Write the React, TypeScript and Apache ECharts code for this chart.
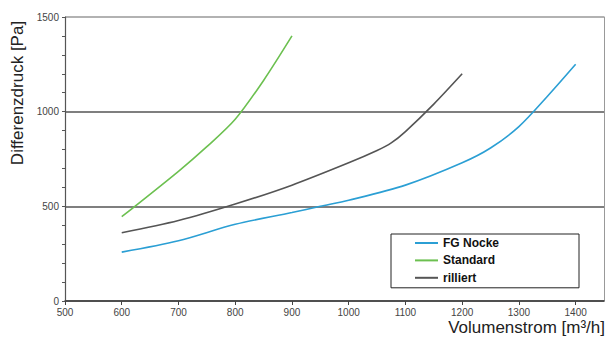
import React, { useEffect, useRef } from "react";
import * as echarts from "echarts";

const FONT = "'Liberation Sans', Arial, sans-serif";

const seriesNames = ["FG Nocke", "Standard", "rilliert"];
const seriesColors = ["#2b9fd4", "#6cc050", "#555555"];

const fgNockeX = [600, 700, 800, 900, 950, 1000, 1100, 1200, 1250, 1300, 1350, 1400];
const fgNockeY = [258, 318, 405, 467, 500, 532, 612, 730, 808, 921, 1080, 1250];

const standardX = [600, 700, 750, 800, 850, 900];
const standardY = [445, 685, 815, 960, 1165, 1400];

const rilliertX = [600, 700, 800, 900, 1000, 1050, 1075, 1100, 1150, 1200];
const rilliertY = [360, 425, 512, 612, 730, 795, 835, 895, 1040, 1200];

const xTicks = { min: 500, max: 1450, interval: 100 };
const yTicks = { min: 0, max: 1500, interval: 500 };

const yAxisName = "Differenzdruck [Pa]";
const xAxisName = "Volumenstrom [m³/h]";

function pairs(xs: number[], ys: number[]) {
  return xs.map((x, i) => [x, ys[i]]);
}

export default function App() {
  const ref = useRef<HTMLDivElement>(null);
  useEffect(() => {
    if (!ref.current) return;
    const chart = echarts.init(ref.current, undefined, { renderer: "svg" });
    const datasets = [
      pairs(fgNockeX, fgNockeY),
      pairs(standardX, standardY),
      pairs(rilliertX, rilliertY),
    ];
    const plain = (v: number) => String(v);
    chart.setOption({
      animation: false,
      backgroundColor: "#ffffff",
      textStyle: { fontFamily: FONT },
      grid: { left: 65, right: 2, top: 17, bottom: 39, containLabel: false },
      xAxis: {
        type: "value",
        min: xTicks.min,
        max: xTicks.max,
        interval: xTicks.interval,
        axisLine: { show: true, lineStyle: { color: "#444", width: 1.5 } },
        axisTick: { show: true, length: 4, lineStyle: { color: "#444" } },
        axisLabel: {
          color: "#444",
          fontSize: 10,
          fontFamily: FONT,
          margin: 6,
          showMaxLabel: false,
          formatter: plain,
        },
        splitLine: { show: false },
      },
      yAxis: [
        {
          type: "value",
          min: yTicks.min,
          max: yTicks.max,
          interval: yTicks.interval,
          axisLine: { show: true, lineStyle: { color: "#555", width: 1.2 } },
          axisTick: { show: true, length: 3, lineStyle: { color: "#555" } },
          minorTick: { show: true, splitNumber: 5, length: 3, lineStyle: { color: "#555" } },
          axisLabel: { color: "#444", fontSize: 10, fontFamily: FONT, margin: 6, formatter: plain },
          splitLine: {
            show: true,
            lineStyle: { color: ["#444", "#555", "#555", "#999"], width: 1.5 },
          },
        },
        {
          type: "value",
          position: "right",
          min: yTicks.min,
          max: yTicks.max,
          interval: yTicks.interval,
          axisLine: { show: true, lineStyle: { color: "#999", width: 1 } },
          axisTick: { show: false },
          axisLabel: { show: false },
          splitLine: { show: false },
        },
      ],
      legend: {
        orient: "vertical",
        left: 391,
        top: 234,
        padding: [3, 80, 4, 24],
        itemGap: 5.4,
        itemWidth: 23,
        itemHeight: 2,
        icon: "rect",
        borderColor: "#222",
        borderWidth: 1,
        backgroundColor: "#ffffff",
        textStyle: { color: "#111", fontSize: 12, fontWeight: "bold", fontFamily: FONT },
        data: seriesNames,
      },
      series: seriesNames.map((name, i) => ({
        name,
        type: "line",
        data: datasets[i],
        smooth: 0.3,
        symbol: "none",
        yAxisIndex: 0,
        lineStyle: { color: seriesColors[i], width: 1.6 },
        itemStyle: { color: seriesColors[i] },
      })),
      graphic: [
        {
          type: "text",
          x: 17,
          y: 93,
          rotation: Math.PI / 2,
          style: {
            text: yAxisName,
            font: `17px ${FONT}`,
            fill: "#222",
            textAlign: "center",
            textVerticalAlign: "middle",
          },
        },
        {
          type: "text",
          x: 605,
          y: 327,
          style: {
            text: xAxisName,
            font: `17px ${FONT}`,
            fill: "#222",
            textAlign: "right",
            textVerticalAlign: "middle",
          },
        },
      ],
    });
    return () => chart.dispose();
  }, []);
  return (
    <div
      ref={ref}
      style={{ position: "fixed", left: 0, top: 0, width: 606, height: 340 }}
    />
  );
}
